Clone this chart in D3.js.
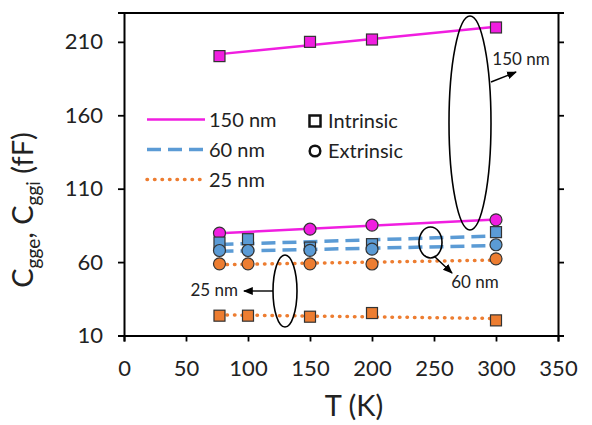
<!DOCTYPE html>
<html>
<head>
<meta charset="utf-8">
<script src="https://cdn.jsdelivr.net/npm/d3@7"></script>
<style>
  body { margin: 0; background: #fff; }
  svg { font-family: Lato, "Open Sans", sans-serif; }
</style>
</head>
<body>
<svg id="chart" width="592" height="425"></svg>
<script>
// temperatures (K)
const tempShort = [77, 150, 200, 300];
const tempLong = [77, 100, 150, 200, 300];

// capacitances (fF)
const intr150 = [200.3, 210, 211.6, 219.8];
const extr150 = [79.7, 82.4, 85.2, 88.8];
const intr60 = [73.3, 75.6, 69.9, 72.2, 80.4];
const extr60 = [67.9, 67.9, 68.0, 68.8, 71.8];
const intr25 = [23.5, 23.5, 22.8, 25.3, 20.3];
const extr25 = [58.8, 58.8, 58.8, 58.7, 62.2];

const xTicks = [0, 50, 100, 150, 200, 250, 300, 350];
const yTicks = [10, 60, 110, 160, 210];

const colors = { "150": "#f01ee0", "60": "#5b9bd5", "25": "#ed7d31" };

const series = [
  { size: "150", kind: "intr", t: tempShort, v: intr150 },
  { size: "150", kind: "extr", t: tempShort, v: extr150 },
  { size: "60", kind: "intr", t: tempLong, v: intr60 },
  { size: "60", kind: "extr", t: tempLong, v: extr60 },
  { size: "25", kind: "intr", t: tempLong, v: intr25 },
  { size: "25", kind: "extr", t: tempLong, v: extr25 }
];

const svg = d3.select("#chart");
const x = d3.scaleLinear().domain([0, 350]).range([124, 558]);
const y = d3.scaleLinear().domain([10, 230]).range([335.5, 12.5]);

function lineStyle(sel, size) {
  sel.attr("stroke", colors[size]).attr("fill", "none");
  if (size === "150") sel.attr("stroke-width", 2.5);
  if (size === "60") sel.attr("stroke-width", 3.5).attr("stroke-dasharray", "14,7");
  if (size === "25") sel.attr("stroke-width", 3.5).attr("stroke-dasharray", "0.5,7").attr("stroke-linecap", "round");
}

// linear trendlines (least squares)
function fit(t, v) {
  const mt = d3.mean(t), mv = d3.mean(v);
  const b = d3.sum(t, (d, i) => (d - mt) * (v[i] - mv)) / d3.sum(t, d => (d - mt) ** 2);
  return [mv - b * mt, b];
}

// axes
const axBottom = svg.append("g")
  .attr("transform", `translate(0, ${y(10)})`)
  .call(d3.axisBottom(x).tickValues(xTicks).tickSize(6).tickPadding(19));
const axLeft = svg.append("g")
  .attr("transform", `translate(${x(0)}, 0)`)
  .call(d3.axisLeft(y).tickValues(yTicks).tickSize(6).tickPadding(15));
const axRight = svg.append("g")
  .attr("transform", `translate(${x(350)}, 0)`)
  .call(d3.axisRight(y).tickValues(yTicks).tickSize(6).tickFormat(""));
const axTop = svg.append("g")
  .attr("transform", `translate(0, ${y(230)})`)
  .call(d3.axisTop(x).tickValues([]).tickSizeOuter(0));

[axBottom, axLeft, axRight, axTop].forEach(g => {
  g.selectAll(".domain").attr("stroke", "#000").attr("stroke-width", 2);
  g.selectAll(".tick line").attr("stroke", "#000").attr("stroke-width", 1.8);
  g.selectAll("text").attr("font-size", 22).attr("fill", "#222").style("font-family", "Lato, sans-serif");
});

// trend lines
series.forEach(s => {
  const [a, b] = fit(s.t, s.v);
  const t0 = d3.min(s.t), t1 = d3.max(s.t);
  svg.append("line")
    .attr("x1", x(t0)).attr("y1", y(a + b * t0))
    .attr("x2", x(t1)).attr("y2", y(a + b * t1))
    .call(lineStyle, s.size);
});

// markers
series.forEach(s => {
  const pts = s.t.map((t, i) => ({ t, v: s.v[i] }));
  if (s.kind === "intr") {
    svg.append("g").selectAll("rect").data(pts).enter().append("rect")
      .attr("x", d => x(d.t) - 5.5).attr("y", d => y(d.v) - 5.5)
      .attr("width", 11).attr("height", 11)
      .attr("fill", colors[s.size]).attr("stroke", "#333").attr("stroke-width", 1.2);
  } else {
    svg.append("g").selectAll("circle").data(pts).enter().append("circle")
      .attr("cx", d => x(d.t)).attr("cy", d => y(d.v)).attr("r", 6)
      .attr("fill", colors[s.size]).attr("stroke", "#333").attr("stroke-width", 1.2);
  }
});

// legend
const legend = svg.append("g").attr("font-size", 20).attr("fill", "#222");
["150", "60", "25"].forEach((size, i) => {
  const ly = 119.5 + i * 30;
  legend.append("line").attr("x1", 147).attr("x2", 205).attr("y1", ly).attr("y2", ly).call(lineStyle, size);
  legend.append("text").attr("x", 209).attr("y", ly + 7.5).text(size + " nm");
});
legend.append("rect").attr("x", 309.5).attr("y", 115.5).attr("width", 11).attr("height", 11)
  .attr("fill", "none").attr("stroke", "#111").attr("stroke-width", 2.5);
legend.append("text").attr("x", 328).attr("y", 127.5).text("Intrinsic");
legend.append("circle").attr("cx", 315).attr("cy", 151).attr("r", 5.3)
  .attr("fill", "none").attr("stroke", "#111").attr("stroke-width", 2.5);
legend.append("text").attr("x", 328).attr("y", 157.5).text("Extrinsic");

// annotations
svg.append("defs").append("marker")
  .attr("id", "arr").attr("viewBox", "0 0 10 10").attr("refX", 9).attr("refY", 5)
  .attr("markerWidth", 7).attr("markerHeight", 7).attr("orient", "auto")
  .append("path").attr("d", "M0,1 L10,5 L0,9 Z").attr("fill", "#000");

const notes = [
  { cx: 470, cy: 123, rx: 21, ry: 107, from: [491, 82], to: [516, 72], label: "150 nm", lx: 521, ly: 65, anchor: "middle" },
  { cx: 430.5, cy: 242.5, rx: 11.5, ry: 15.5, from: [434, 256], to: [452, 273], label: "60 nm", lx: 475, ly: 288, anchor: "middle" },
  { cx: 285, cy: 291, rx: 12, ry: 36, from: [273, 291], to: [244, 291], label: "25 nm", lx: 238, ly: 296, anchor: "end" }
];
notes.forEach(n => {
  svg.append("ellipse").attr("cx", n.cx).attr("cy", n.cy).attr("rx", n.rx).attr("ry", n.ry)
    .attr("fill", "none").attr("stroke", "#000").attr("stroke-width", 1.6);
  svg.append("line").attr("x1", n.from[0]).attr("y1", n.from[1]).attr("x2", n.to[0]).attr("y2", n.to[1])
    .attr("stroke", "#000").attr("stroke-width", 1.4).attr("marker-end", "url(#arr)");
  svg.append("text").attr("x", n.lx).attr("y", n.ly).attr("text-anchor", n.anchor)
    .attr("font-size", 17).attr("fill", "#222").text(n.label);
});

// axis titles
svg.append("text").attr("x", 354).attr("y", 416).attr("text-anchor", "middle")
  .attr("font-size", 29).attr("fill", "#222").text("T (K)");
const yt = svg.append("text").attr("transform", "translate(33, 210) rotate(-90)")
  .attr("text-anchor", "middle").attr("font-size", 29).attr("fill", "#222");
yt.append("tspan").text("C");
yt.append("tspan").attr("font-size", 19).attr("dy", 7).text("gge");
yt.append("tspan").attr("dy", -7).text(", C");
yt.append("tspan").attr("font-size", 19).attr("dy", 7).text("ggi");
yt.append("tspan").attr("dy", -7).text(" (fF)");
</script>
</body>
</html>
